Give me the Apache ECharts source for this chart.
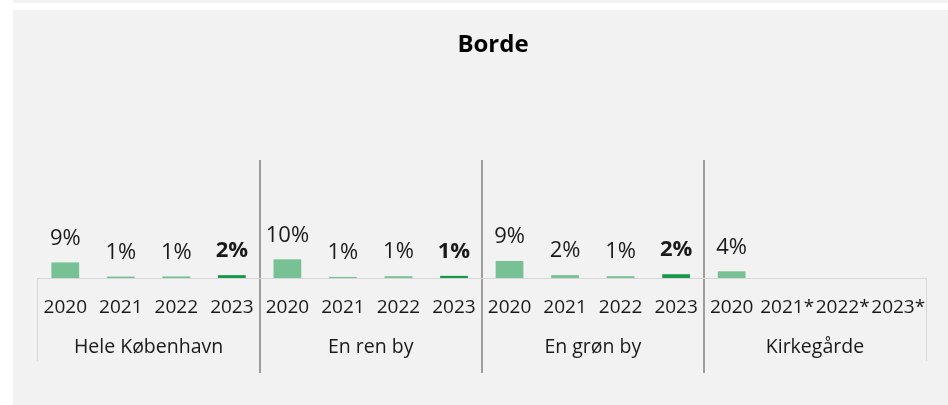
<!DOCTYPE html>
<html>
<head>
<meta charset="utf-8">
<script src="https://cdn.jsdelivr.net/npm/echarts@6/dist/echarts.min.js"></script>
<style>
  html, body { margin: 0; padding: 0; background: #fff; }
  #main { width: 948px; height: 405px; }
</style>
</head>
<body>
<div id="main"></div>
<script>
// tick labels
const years = ['2020', '2021', '2022', '2023', '2020', '2021', '2022', '2023',
  '2020', '2021', '2022', '2023', '2020', '2021*', '2022*', '2023*'];
const groups = ['Hele København', 'En ren by', 'En grøn by', 'Kirkegårde'];

// share per year (%) for each group
const heleKbh = [8.6, 0.8, 0.9, 1.6];
const renBy = [10.3, 0.6, 1.0, 1.2];
const gronBy = [9.4, 1.6, 1.0, 2.1];
const kirkegaarde = [3.7, null, null, null];

const light = '#78c194';
const dark = '#16994a';
const font = '"Open Sans", sans-serif';

const barData = [];
[heleKbh, renBy, gronBy, kirkegaarde].forEach(function (arr) {
  arr.forEach(function (v, j) {
    barData.push({
      value: v,
      itemStyle: { color: j === 3 ? dark : light },
      label: { fontWeight: j === 3 ? 'bold' : 'normal' }
    });
  });
});

const chart = echarts.init(document.getElementById('main'));
chart.setOption({
  backgroundColor: '#fff',
  animation: false,
  graphic: [
    { type: 'rect', shape: { x: 13, y: 0, width: 935, height: 3 }, style: { fill: '#f2f2f2' }, z: -10 },
    { type: 'rect', shape: { x: 13, y: 10, width: 935, height: 395 }, style: { fill: '#f2f2f2' }, z: -10 }
  ],
  title: {
    text: 'Borde',
    left: 488,
    top: 28,
    textAlign: 'center',
    textStyle: { fontFamily: font, fontSize: 24, fontWeight: 'bold', color: '#000' }
  },
  grid: { left: 37.5, right: 22, top: 160, bottom: 32, outerBoundsMode: 'none' },
  xAxis: [
    {
      // year labels; line and edge ticks sit on the zero line,
      // labels are placed from the grid bottom
      type: 'category',
      data: years,
      position: 'bottom',
      axisLine: { onZero: true, lineStyle: { color: '#d6d6d6', width: 1 } },
      axisTick: {
        show: true,
        interval: function (idx) { return idx === 0; },
        length: 83,
        lineStyle: { color: '#d6d6d6' }
      },
      axisLabel: {
        interval: 0, inside: true, margin: 65, verticalAlign: 'middle',
        fontFamily: font, fontSize: 19, color: '#1a1a1a'
      }
    },
    {
      // group labels at the bottom, with separators through the whole grid
      type: 'category',
      data: groups,
      position: 'bottom',
      axisLine: { show: false, onZero: false },
      axisTick: { show: false },
      axisLabel: {
        interval: 0, inside: true, margin: 26, verticalAlign: 'middle',
        fontFamily: font, fontSize: 19.5, color: '#1a1a1a'
      },
      splitLine: {
        show: true,
        showMinLine: false,
        showMaxLine: false,
        lineStyle: { color: '#808080', width: 1.5 }
      }
    }
  ],
  yAxis: {
    type: 'value',
    min: -52.3,
    max: 65,
    show: false,
    splitLine: { show: false }
  },
  series: [{
    type: 'bar',
    data: barData,
    barWidth: '50%',
    xAxisIndex: 0,
    label: {
      show: true,
      position: 'top',
      distance: 13,
      fontFamily: font,
      fontSize: 22,
      color: '#1a1a1a',
      formatter: function (p) { return Math.round(p.value) + '%'; }
    }
  }]
});
</script>
</body>
</html>
